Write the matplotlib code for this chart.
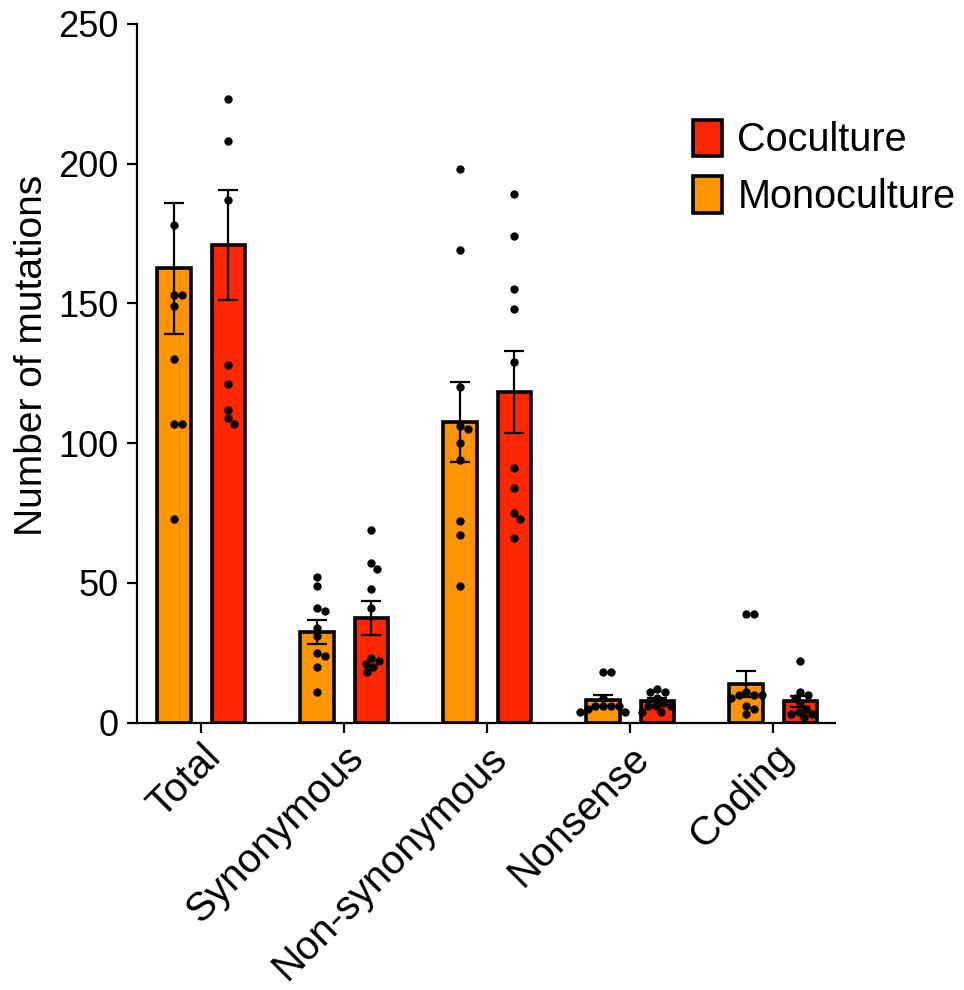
import numpy as np
import matplotlib
matplotlib.use('Agg')
from matplotlib import pyplot as plt
from matplotlib.patches import Patch

plt.rcParams['font.family'] = ['Liberation Sans', 'DejaVu Sans']

categories = ['Total', 'Synonymous', 'Non-synonymous', 'Nonsense', 'Coding']

mono_mean = [162.5, 32.5, 107.5, 8.0, 13.8]
mono_sem = [23.4, 4.2, 14.3, 2.0, 4.6]
coc_mean = [171.0, 37.4, 118.2, 7.6, 7.6]
coc_sem = [19.7, 6.0, 14.6, 1.3, 2.0]

mono_points = [
    [178, 153, 153, 149, 130, 107, 107, 73],
    [52, 49, 41, 40, 34, 31, 25, 24, 20, 11],
    [198, 169, 120, 106, 105, 100, 94, 72, 67, 49],
    [18, 18, 9, 6, 6, 6, 6, 5, 4, 4],
    [39, 39, 11, 10, 10, 10, 9, 6, 5, 3],
]
coc_points = [
    [223, 208, 187, 128, 121, 112, 109, 107],
    [69, 57, 55, 48, 41, 23, 22, 21, 20, 18],
    [189, 174, 155, 148, 129, 91, 84, 75, 73, 66],
    [12, 11, 11, 9, 7, 6, 6, 6, 4, 4],
    [22, 11, 10, 9, 7, 5, 4, 3, 3, 2],
]

MONO_COLOUR = '#ff9300'
COC_COLOUR = '#ff2600'
OFFSET = 0.19
WIDTH = 0.235
DOT_PX = 8.0


def swarm(ax, x0, values):
    """place dots side by side (in pixel space) when they would overlap"""
    trans = ax.transData
    base = trans.transform([(x0, v) for v in values])
    order = np.argsort(values)[::-1]
    placed = []
    xs = np.zeros(len(values))
    for i in order:
        px, py = base[i]
        cands = [0.0]
        for qx, qy in placed:
            dy = py - qy
            if abs(dy) < DOT_PX:
                dx = np.sqrt(DOT_PX ** 2 - dy ** 2) + 0.01
                cands += [qx + dx, qx - dx]
        cands.sort(key=abs)
        for c in cands:
            if all((c - qx) ** 2 + (py - qy) ** 2 >= DOT_PX ** 2 - 0.01 for qx, qy in placed):
                break
        placed.append((c, py))
        xs[i] = px + c
    inv = trans.inverted()
    return inv.transform(np.column_stack([xs, base[:, 1]]))


fig = plt.figure(figsize=(9.64, 9.9), dpi=100)
ax = fig.add_axes([0.142, 0.270, 0.724, 0.706])
ax.set_xlim(-0.45, 4.43)
ax.set_ylim(0, 250)

x = np.arange(len(categories))
for xpos, means, sems, colour in [(x - OFFSET, mono_mean, mono_sem, MONO_COLOUR),
                                  (x + OFFSET, coc_mean, coc_sem, COC_COLOUR)]:
    ax.bar(xpos, means, width=WIDTH, color=colour, edgecolor='black', linewidth=2.6, zorder=2)
    ax.errorbar(xpos, means, yerr=sems, fmt='none', ecolor='black', elinewidth=1.6,
                capsize=7, capthick=1.6, zorder=3)

for i in range(len(categories)):
    for xc, pts in [(i - OFFSET, mono_points[i]), (i + OFFSET, coc_points[i])]:
        pos = swarm(ax, xc, pts)
        ax.scatter(pos[:, 0], pos[:, 1], s=36, color='black', zorder=4, linewidths=0)

for side in ['top', 'right']:
    ax.spines[side].set_visible(False)
ax.spines['left'].set_linewidth(1.6)
ax.spines['bottom'].set_linewidth(1.6)

ax.set_yticks([0, 50, 100, 150, 200, 250])
ax.tick_params(axis='y', direction='out', length=7, width=1.6, labelsize=26, pad=6)
ax.tick_params(axis='x', direction='out', length=7, width=1.6, labelsize=29, pad=4)
ax.set_xticks(x)
ax.set_xticklabels(categories, rotation=45, ha='right', va='top', rotation_mode='anchor')
ax.set_ylabel('Number of mutations', fontsize=28)
ax.yaxis.set_label_coords(-0.125, 0.525)

handles = [Patch(facecolor=COC_COLOUR, edgecolor='black', linewidth=2.6, label='Coculture'),
           Patch(facecolor=MONO_COLOUR, edgecolor='black', linewidth=2.6, label='Monoculture')]
ax.legend(handles=handles, loc='upper left', bbox_to_anchor=(0.797, 0.863), frameon=False,
          fontsize=28.5, handlelength=0.72, handleheight=1.05, handletextpad=0.4,
          labelspacing=0.42, borderaxespad=0, borderpad=0)

fig.savefig('out.png', dpi=100)
